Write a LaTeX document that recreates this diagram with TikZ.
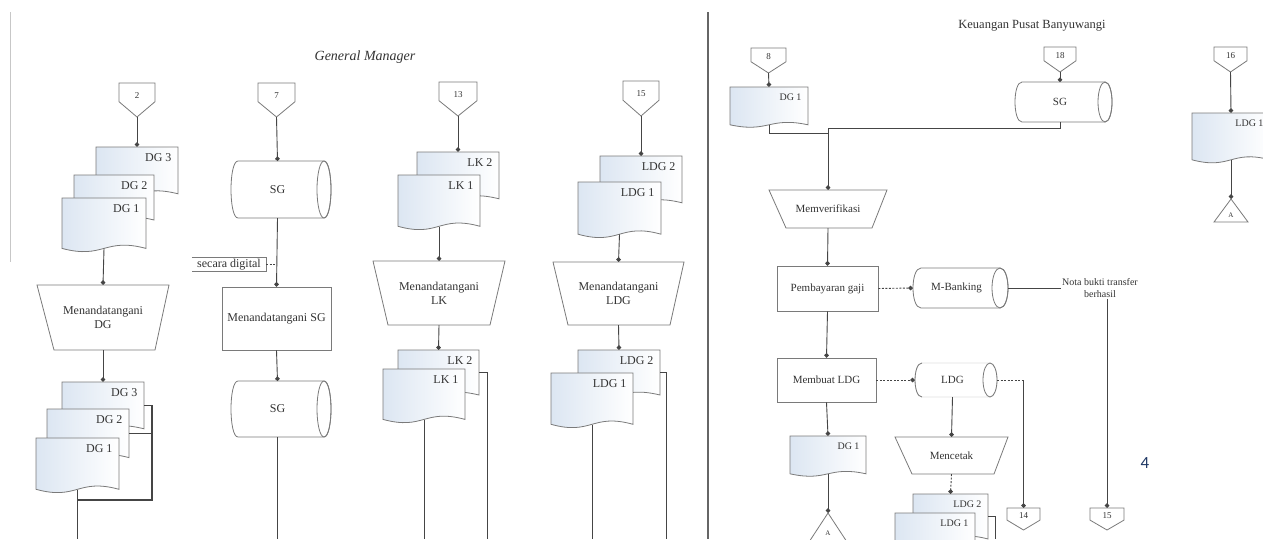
\documentclass[tikz,border=0pt]{standalone}
\usepackage{fontspec}
\setmainfont{Liberation Serif}
\newfontfamily\pagefont{Carlito}
\usetikzlibrary{arrows.meta}
\definecolor{linec}{HTML}{454545}
\definecolor{shapec}{HTML}{7A7A7A}
\definecolor{textc}{HTML}{333333}
\definecolor{docblue}{HTML}{DCE6F2}
\definecolor{pagenum}{HTML}{1F3864}
\tikzset{
 shapest/.style={draw=shapec, line width=0.8pt, fill=white},
 faintcyl/.style={draw=black!12, line width=0.8pt, fill=white},
 shapeln/.style={draw=shapec, line width=0.8pt},
 docst/.style={draw=shapec, line width=0.8pt, left color=docblue, right color=white},
 box/.style={inner sep=0pt, draw=none},
 procbox/.style={draw=shapec, line width=0.8pt, fill=white, inner sep=0pt},
 lbl/.style={font=\fontsize{12}{14}\selectfont, text=textc, align=center},
 rlbl/.style={font=\fontsize{11}{13}\selectfont, text=textc, align=center},
 slbl/.style={font=\fontsize{10}{12}\selectfont, text=textc, align=center},
 clbl/.style={font=\fontsize{9}{10}\selectfont, text=textc},
 tlbl/.style={font=\fontsize{7}{8}\selectfont, text=textc},
 link/.style={draw=linec, line width=0.9pt},
 flow/.style={link, -{Circle[length=4.5pt,width=4.5pt]}},
 dlink/.style={link, dash pattern=on 2pt off 1.5pt},
 dflow/.style={flow, dash pattern=on 2pt off 1.5pt},
 heavy/.style={draw=linec, line width=1.4pt},
}
% document: name x y w h label style
\newcommand\docshape[7]{%
 \path[docst] (#2,#3) -- ({#2+#4},#3) -- ({#2+#4},{#3+0.9*#5}) .. controls ({#2+0.5*#4},{#3+0.7*#5}) and ({#2+0.5*#4},{#3+1.1*#5}) .. (#2,{#3+0.9*#5}) -- cycle;
 \node[box, minimum width=#4pt, minimum height={0.9*#5pt}] (#1) at ({#2+0.5*#4},{#3+0.45*#5}) {};
 \node[#7, anchor=north east] (#1-t) at ({#2+#4-3},{#3+3}) {#6};
}
% off-page connector: name x y w h label
\newcommand\offpage[6]{%
 \path[shapest] (#2,#3) -- ({#2+#4},#3) -- ({#2+#4},{#3+0.55*#5}) -- ({#2+0.5*#4},{#3+#5}) -- (#2,{#3+0.55*#5}) -- cycle;
 \node[box, minimum width=#4pt, minimum height=#5pt] (#1) at ({#2+0.5*#4},{#3+0.5*#5}) {};
 \node[clbl] (#1-t) at ({#2+0.5*#4},{#3+0.36*#5}) {#6};
}
% cylinder: [style] name x1 y1 x2 y2 rx label labelstyle
\newcommand\cyl[9][shapest]{%
 \path[#1] ({#5-#7},#4) -- ({#3+#7},#4) .. controls ({#3-0.333*#7},#4) and ({#3-0.333*#7},#6) .. ({#3+#7},#6) -- ({#5-#7},#6) .. controls ({#5+0.333*#7},#6) and ({#5+0.333*#7},#4) .. cycle;
 \draw[shapeln] ({#5-#7},{(#4+#6)/2}) ellipse [x radius=#7, y radius={(#6-#4)/2}];
 \node[box, minimum width={(#5-#3)*1pt}, minimum height={(#6-#4)*1pt}] (#2) at ({(#3+#5)/2},{(#4+#6)/2}) {};
 \coordinate (#2-n) at ({(#3+#5-#7)/2},#4);
 \coordinate (#2-s) at ({(#3+#5-#7)/2},#6);
 \node[#9] (#2-t) at ({(#3+#5-#7)/2},{(#4+#6)/2}) {#8};
}
% manual operation: name xt1 xt2 yt xb1 xb2 yb text style
\newcommand\trap[9]{%
 \path[shapest] (#2,#4) -- (#3,#4) -- (#6,#7) -- (#5,#7) -- cycle;
 \node[box, #9, minimum width={(#3-#2)*1pt}, minimum height={(#7-#4)*1pt}] (#1) at ({(#2+#3)/2},{(#4+#7)/2}) {#8};
}
% offline file: name apexx apexy halfw basey label
\newcommand\tri[6]{%
 \path[shapest] (#2,#3) -- ({#2+#4},#5) -- ({#2-#4},#5) -- cycle;
 \node[box, minimum width={2*#4pt}, minimum height={(#5-#3)*1pt}] (#1) at (#2,{(#3+#5)/2}) {};
 \node[tlbl] (#1-t) at (#2,{#5-0.3*(#5-#3)}) {#6};
}
\begin{document}
\begin{tikzpicture}[x=1pt,y=-1pt]
\fill[white] (0,0) rectangle (1263,539);
\useasboundingbox (0,0) rectangle (1263,539);

% frame lines
\draw[draw=black!22, line width=0.8pt] (10,12) -- (10,262);
\draw[draw=black!60, line width=1.6pt] (708,12) -- (708,539);

% ================= LEFT : General Manager =================
\node[font=\itshape\fontsize{14}{16}\selectfont, text=textc] (gm) at (365,57) {General Manager};

% column 1
\offpage{c2}{119}{83}{36}{34}{2}
\docshape{dg3a}{96}{147}{82}{52}{DG 3}{lbl}
\docshape{dg2a}{74}{175}{80}{50}{DG 2}{lbl}
\docshape{dg1a}{62}{198}{84}{56}{DG 1}{lbl}
\trap{t1}{37}{169}{285}{54}{155}{350}{Menandatangani\\DG}{lbl}
\docshape{dg3b}{62}{382}{82}{52}{DG 3}{lbl}
\docshape{dg2b}{47}{409}{82}{54}{DG 2}{lbl}
\docshape{dg1b}{36}{438}{83}{57}{DG 1}{lbl}
\coordinate (k1) at (152,500);
\coordinate (k1end) at (77.5,539);
\draw[flow] (c2.south) -- (dg3a.north);
\draw[flow] (dg1a.south) -- (t1.north);
\draw[flow] (t1.south) -- (dg3b.north);
\draw[heavy] (dg3b.east) -| (k1) -- (k1 -| dg1b.south);
\draw[heavy] (dg2b.east) -- (dg2b.east -| k1);
\draw[heavy] (dg1b.south) -- (k1end);

% column 2
\offpage{c7}{258}{83}{37}{34}{7}
\cyl{sg1}{231}{161}{331}{218}{7}{SG}{lbl}
\node[procbox, lbl, minimum width=109pt, minimum height=63pt] (sgrect) at (276.5,318.5) {Menandatangani SG};
\cyl{sg2}{231}{381}{331}{437}{7}{SG}{lbl}
\node[lbl, inner sep=0pt, minimum width=74pt, minimum height=13pt] (anno) at (229,264.5) {secara digital};
\draw[shapeln] (anno.north west) -- (anno.north east) -- (anno.south east) -- (anno.south west);
\coordinate (e2) at (277.5,539);
\draw[flow] (c7.south) -- (sg1-n);
\draw[flow] (sg1-s) -- (sgrect.north);
\draw[dlink] (anno.east) -- (anno.east -| sgrect.north);
\draw[flow] (sgrect.south) -- (sg2-n);
\draw[link] (sg2-s) -- (e2);

% column 3
\offpage{c13}{439}{82}{38}{34}{13}
\docshape{lk2a}{417}{152}{82}{52}{LK 2}{lbl}
\docshape{lk1a}{398}{175}{82}{57}{LK 1}{lbl}
\trap{t3}{373}{505}{261}{388}{490}{325}{Menandatangani\\LK}{lbl}
\docshape{lk2b}{398}{350}{81}{50}{LK 2}{lbl}
\docshape{lk1b}{383}{369}{82}{56}{LK 1}{lbl}
\coordinate (e3a) at (424,539);
\coordinate (e3b) at (487,539);
\draw[flow] (c13.south) -- (lk2a.north);
\draw[flow] (lk1a.south) -- (t3.north);
\draw[flow] (t3.south) -- (lk2b.north);
\draw[link] (lk1b.south) -- (e3a);
\draw[link] (lk2b.east) -| (e3b);

% column 4
\offpage{c15}{623}{81}{36}{35}{15}
\docshape{ldg2a}{600}{156}{82}{52}{LDG 2}{lbl}
\docshape{ldg1a}{578}{182}{83}{58}{LDG 1}{lbl}
\trap{t4}{553}{684}{262}{568}{670}{325}{Menandatangani\\LDG}{lbl}
\docshape{ldg2b}{578}{350}{82}{50}{LDG 2}{lbl}
\docshape{ldg1b}{551}{373}{82}{57}{LDG 1}{lbl}
\coordinate (e4a) at (592,539);
\coordinate (e4b) at (666,539);
\draw[flow] (c15.south) -- (ldg2a.north);
\draw[flow] (ldg1a.south) -- (t4.north);
\draw[flow] (t4.south) -- (ldg2b.north);
\draw[link] (ldg1b.south) -- (e4a);
\draw[link] (ldg2b.east) -| (e4b);

% ================= RIGHT : Keuangan Pusat =================
\node[font=\fontsize{12.5}{14}\selectfont, text=textc] (kp) at (1032,26) {Keuangan Pusat Banyuwangi};

\offpage{c8}{751}{48}{35}{25}{8}
\docshape{dgr}{730}{87}{78}{42}{DG 1}{slbl}
\offpage{c18}{1044}{47}{32}{25}{18}
\cyl{sgr}{1015}{82}{1112}{122}{7}{SG}{rlbl}
\coordinate (j1) at (828,133);
\coordinate (j2) at (828,128);
\trap{ver}{769}{887}{190}{786}{872}{228}{Memverifikasi}{rlbl}
\node[procbox, rlbl, minimum width=101pt, minimum height=45pt] (bayar) at (827.5,288.5) {Pembayaran gaji};
\cyl{mb}{913}{268}{1008}{308}{8}{M-Banking}{rlbl}
\node[slbl, inner sep=1pt] (nota) at (1100,288) {Nota bukti transfer\\berhasil};
\offpage{cB}{1090}{508}{34}{22}{15}
\node[procbox, rlbl, minimum width=99pt, minimum height=44pt] (buat) at (826.5,380) {Membuat LDG};
\cyl[faintcyl]{ldgc}{915}{363}{997}{397}{7}{LDG}{rlbl}
\draw[shapeln] (922,363) .. controls (912.7,363) and (912.7,397) .. (922,397);
\offpage{cA}{1007}{508}{33}{22}{14}
\trap{cetak}{895}{1008}{437}{912}{994}{474}{Mencetak}{rlbl}
\docshape{ldg2r}{913}{494}{75}{50}{LDG 2}{slbl}
\docshape{ldg1r}{895}{513}{80}{50}{LDG 1}{slbl}
\coordinate (e5) at (995,539);
\docshape{dgr2}{790}{436}{76}{42}{DG 1}{slbl}
\tri{tri1}{828}{513}{19}{542}{A}

\offpage{c16}{1214}{47}{33}{25}{16}
\docshape{ldgr3}{1192}{113}{78}{52}{LDG 1}{slbl}
\tri{tri2}{1231}{199}{17}{222}{A}

\draw[flow] (c8.south) -- (dgr.north);
\draw[link] (dgr.south) |- (j1);
\draw[flow] (c18.south) -- (sgr-n);
\draw[link] (sgr-s) |- (j2);
\draw[flow] (j2) -- (ver.north);
\draw[flow] (ver.south) -- (bayar.north);
\draw[dflow] (bayar.east) -- (mb.west);
\draw[link] (mb.east) -- (nota.west);
\draw[flow] (nota.south -| cB.north) -- (cB.north);
\draw[flow] (bayar.south) -- (buat.north);
\draw[dflow] (buat.east) -- (ldgc.west);
\draw[dlink] (ldgc.east) -- (ldgc.east -| cA.north);
\draw[flow] (ldgc.east -| cA.north) -- (cA.north);
\draw[flow] (ldgc-s) -- (cetak.north);
\draw[dflow] (cetak.south) -- (ldg2r.north);
\draw[link] (ldg2r.east) -| (e5);
\draw[flow] (buat.south) -- (dgr2.north);
\draw[flow] (dgr2.south) -- (tri1.north);
\draw[flow] (c16.south) -- (ldgr3.north);
\draw[flow] (ldgr3.south) -- (tri2.north);

\node[font=\pagefont\fontsize{17}{18}\selectfont, text=pagenum] (pg) at (1145,463) {4};
\end{tikzpicture}
\end{document}
